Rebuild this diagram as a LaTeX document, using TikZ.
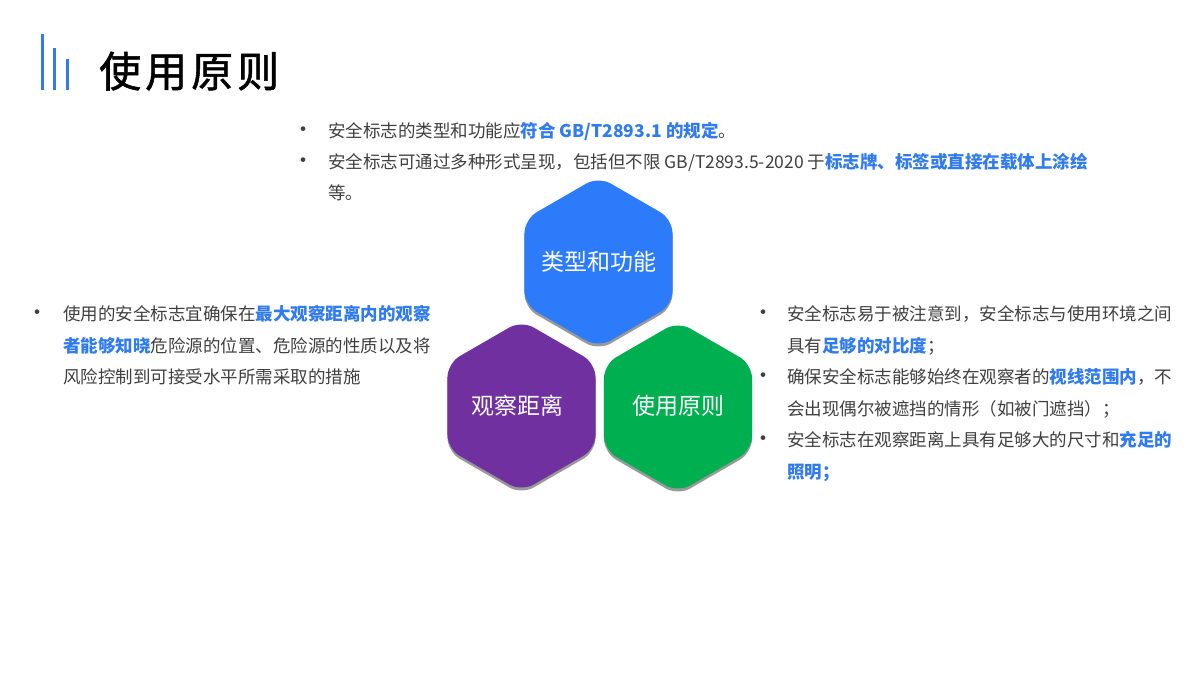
\documentclass[tikz,border=0pt]{standalone}
\usepackage{fontspec}
\setmainfont{Noto Sans CJK SC}
\usepackage{xcolor}
\usetikzlibrary{shapes.geometric, shadows}

\definecolor{hiblue}{HTML}{2F7BEF}
\definecolor{txtgray}{HTML}{404040}
\definecolor{hexblue}{HTML}{2B7BFB}
\definecolor{hexpurple}{HTML}{7030A0}
\definecolor{hexgreen}{HTML}{00B050}

\newcommand{\hl}[1]{{\color{hiblue}\bfseries #1}}

\begin{document}
\begin{tikzpicture}[x=1pt, y=-1pt,
  hexa/.style={regular polygon, regular polygon sides=6, shape border rotate=90,
    minimum size=171pt, inner sep=0pt, rounded corners=14pt, text=white,
    font=\fontsize{23}{27}\selectfont,
    drop shadow={shadow xshift=0pt, shadow yshift=-3pt, fill=black!40, opacity=1}},
  bodytext/.style={anchor=base west, align=left, inner sep=0pt, text=txtgray,
    font=\fontsize{17.5}{31.4}\selectfont},
  bulletdot/.style={anchor=base, inner sep=0pt, text=txtgray, font=\fontsize{22}{24}\selectfont}]

\fill[white] (0,0) rectangle (1200,674);
\useasboundingbox (0,0) rectangle (1200,674);

% title
\fill[hiblue] (41,34) rectangle (44,90);
\fill[hiblue] (53,48) rectangle (56,90);
\fill[hiblue] (65.5,59) rectangle (68.5,90);
\node[anchor=base west, inner sep=0pt, font=\fontsize{42}{46}\selectfont\addfontfeature{FakeBold=1.2}] (title) at (99,87)
  {使\hspace{4pt}用\hspace{4pt}原\hspace{4pt}则};

% top bullets (multi-line nodes sit on their last baseline)
\node[bulletdot] (b1) at (303,138) {•};
\node[bodytext] (t1) at (328,138) {安全标志的类型和功能应\hl{符合 GB/T2893.1 的规定}。};
\node[bulletdot] (b2) at (303,169) {•};
\node[bodytext] (t2) at (328,200)
  {安全标志可通过多种形式呈现，包括但不限 GB/T2893.5-2020 于\hl{标志牌、标签或直接在载体上涂绘}\\等。};

% left bullet
\node[bulletdot] (b3) at (38,320.6) {•};
\node[bodytext] (t3) at (63,383.4)
  {使用的安全标志宜确保在\hl{最大观察距离内的观察}\\\hl{者能够知晓}危险源的位置、危险源的性质以及将\\风险控制到可接受水平所需采取的措施};

% right bullets
\node[bulletdot] (b4) at (763,320.6) {•};
\node[bodytext] (t4) at (787,352)
  {安全标志易于被注意到，安全标志与使用环境之间\\具有\hl{足够的对比度}；};
\node[bulletdot] (b5) at (763,383.6) {•};
\node[bodytext] (t5) at (787,415)
  {确保安全标志能够始终在观察者的\hl{视线范围内}，不\\会出现偶尔被遮挡的情形（如被门遮挡）；};
\node[bulletdot] (b6) at (763,446.6) {•};
\node[bodytext] (t6) at (787,478)
  {安全标志在观察距离上具有足够大的尺寸和\hl{充足的}\\\hl{照明；}};

% hexagons
\node[hexa, fill=hexblue] (kind) at (598.5,262) {\makebox[0pt]{\raisebox{2pt}{类型和功能}}};
\node[hexa, fill=hexpurple] (dist) at (521.5,406) {\makebox[0pt]{\raisebox{-2pt}{观察距离}\hspace{8pt}}};
\node[hexa, fill=hexgreen] (rule) at (678,407) {\makebox[0pt]{\raisebox{5pt}{使用原则}}};

\end{tikzpicture}
\end{document}
